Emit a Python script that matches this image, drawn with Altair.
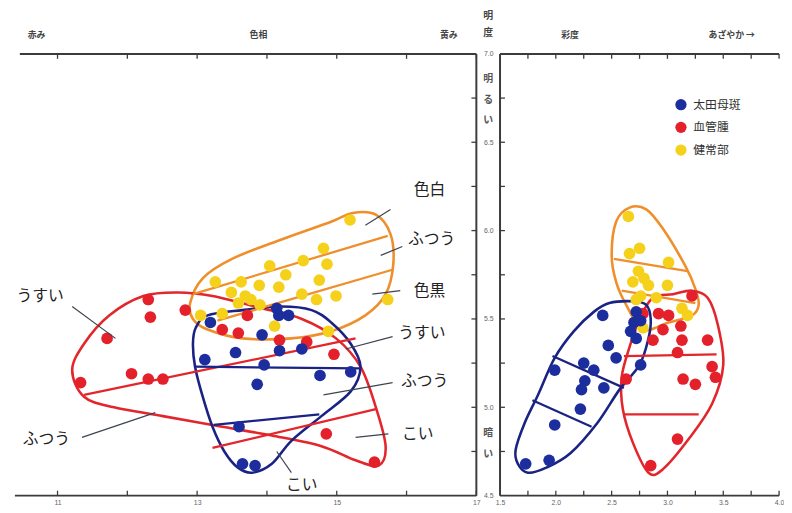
import altair as alt
import pandas as pd

GROUPS = ["太田母斑", "血管腫", "健常部"]
DOT_COLORS = ["#1c2e9e", "#e4202b", "#f5d11c"]
RING_COLORS = ["#1a2384", "#e2262c", "#ef8f2c"]
FRAME = "#3b3b3b"
JP = "Noto Sans CJK JP"

# ---- axis ticks / labels ----
HUE_TICKS = [11, 12, 13, 14, 15, 16, 17]
HUE_LABELS = [11, 13, 15, 17]
CHROMA_TICKS = [1.75, 2.0, 2.25, 2.5, 2.75, 3.0, 3.25, 3.5, 3.75, 4.0]
CHROMA_LABELS = [1.5, 2.0, 2.5, 3.0, 3.5, 4.0]
LIGHT_TICKS = [4.75, 5.0, 5.25, 5.5, 5.75, 6.0, 6.25, 6.5, 6.75]
LIGHT_LABELS = [4.5, 5.0, 5.5, 6.0, 6.5, 7.0]

# ---- left panel points (hue, lightness) ----
norm_hue = [15.19, 14.81, 14.86, 14.52, 14.04, 14.27, 14.75, 13.26, 13.63, 13.89, 14.17, 13.49,
            13.69, 13.77, 14.50, 14.99, 14.71, 15.73, 13.05, 13.36, 14.11, 14.88, 13.59, 13.90]
norm_light_a = [6.06, 5.90, 5.81, 5.83, 5.80, 5.75, 5.72, 5.71, 5.71, 5.69, 5.68, 5.65,
                5.63, 5.61, 5.64, 5.63, 5.61, 5.61, 5.52, 5.53, 5.46, 5.43, 5.59, 5.58]
hem_hue = [12.30, 12.33, 11.71, 12.06, 12.30, 12.51, 11.33, 12.83, 13.36, 13.59, 13.72, 14.18,
           14.57, 14.96, 14.85, 15.54]
hem_light_a = [5.61, 5.51, 5.39, 5.19, 5.16, 5.16, 5.14, 5.55, 5.44, 5.42, 5.52, 5.38,
               5.37, 5.30, 4.85, 4.69]
ota_hue = [13.19, 14.14, 14.17, 14.31, 13.93, 14.50, 13.11, 13.55, 14.18, 15.20, 14.76, 13.96,
           13.86, 13.60, 13.65, 13.83]
ota_light_a = [5.48, 5.56, 5.52, 5.52, 5.41, 5.33, 5.27, 5.31, 5.32, 5.20, 5.18, 5.24,
               5.13, 4.89, 4.68, 4.67]

# ---- right panel points (chroma, lightness) ----
norm_chroma = [2.65, 2.75, 2.66, 2.74, 2.79, 2.69, 2.83, 3.01, 3.00, 2.90, 3.18, 2.76, 2.72, 3.13, 2.78]
norm_light_b = [6.08, 5.90, 5.87, 5.77, 5.73, 5.71, 5.69, 5.82, 5.69, 5.62, 5.52, 5.63, 5.61, 5.56, 5.45]
hem_chroma = [3.22, 3.01, 2.92, 2.78, 3.12, 2.96, 3.13, 3.36, 2.87, 3.09, 3.40, 3.43, 3.14, 3.25,
              2.63, 3.09, 2.85]
hem_light_b = [5.63, 5.52, 5.53, 5.53, 5.46, 5.44, 5.38, 5.38, 5.38, 5.31, 5.23, 5.17, 5.16, 5.13,
               5.16, 4.82, 4.67]
ota_chroma = [2.42, 2.72, 2.70, 2.76, 2.67, 2.47, 2.54, 2.76, 2.72, 2.25, 1.99, 2.34, 2.26, 2.43,
              2.23, 2.22, 1.99, 1.73, 1.94]
ota_light_b = [5.52, 5.54, 5.48, 5.49, 5.43, 5.35, 5.28, 5.24, 5.39, 5.25, 5.21, 5.21, 5.15, 5.11,
               5.10, 4.99, 4.90, 4.68, 4.70]

# ---- hand-drawn group outlines, left panel ----
norm_ring_hue = [12.90, 13.08, 13.50, 14.21, 14.92, 15.23, 15.56, 15.77, 15.81, 15.70, 15.41, 14.92,
                 14.35, 13.65, 13.15, 12.94]
norm_ring_light_a = [5.59, 5.73, 5.84, 5.95, 6.05, 6.10, 6.09, 5.98, 5.81, 5.64, 5.52, 5.43,
                     5.39, 5.39, 5.44, 5.50]
hem_ring_hue = [11.21, 11.38, 11.74, 12.23, 12.73, 13.22, 13.93, 14.50, 14.99, 15.34, 15.56, 15.70,
                15.60, 15.27, 14.78, 14.07, 13.36, 12.51, 11.81, 11.38]
hem_ring_light_a = [5.21, 5.36, 5.52, 5.63, 5.65, 5.63, 5.56, 5.50, 5.39, 5.23, 5.00, 4.78,
                    4.67, 4.70, 4.78, 4.84, 4.89, 4.95, 5.00, 5.06]
ota_ring_hue = [12.98, 13.15, 13.65, 14.21, 14.64, 14.92, 15.20, 15.34, 15.20, 14.78, 14.35, 14.07,
                13.79, 13.58, 13.39, 13.22, 13.08, 12.97, 12.94]
ota_ring_light_a = [5.45, 5.52, 5.55, 5.57, 5.55, 5.48, 5.36, 5.23, 5.09, 4.95, 4.81, 4.68,
                    4.63, 4.66, 4.75, 4.89, 5.06, 5.23, 5.36]
# division lines: (x1, y1, x2, y2, group)
left_divisions = [
    (12.94, 5.64, 15.73, 5.97, "健常部"), (13.29, 5.49, 15.81, 5.78, "健常部"),
    (11.38, 5.07, 15.27, 5.39, "血管腫"), (13.22, 4.77, 15.56, 4.99, "血管腫"),
    (12.97, 5.23, 15.32, 5.22, "太田母斑"), (13.24, 4.90, 14.75, 4.96, "太田母斑"),
]

# ---- hand-drawn group outlines, right panel ----
norm_ring_chroma = [2.66, 2.54, 2.50, 2.54, 2.63, 2.78, 3.01, 3.22, 3.28, 3.25, 3.16, 2.96, 2.81]
norm_ring_light_b = [6.13, 6.05, 5.86, 5.71, 5.58, 5.44, 5.48, 5.52, 5.58, 5.67, 5.80, 6.01, 6.12]
ota_ring_chroma = [1.66, 1.64, 1.72, 1.84, 1.99, 2.16, 2.34, 2.48, 2.69, 2.81, 2.85, 2.83, 2.75,
                   2.57, 2.37, 2.13, 1.92, 1.75]
ota_ring_light_b = [4.68, 4.76, 4.91, 5.07, 5.28, 5.43, 5.54, 5.59, 5.60, 5.58, 5.50, 5.39, 5.24,
                    5.10, 4.91, 4.74, 4.66, 4.63]
hem_ring_chroma = [3.22, 3.05, 2.87, 2.75, 2.66, 2.59, 2.60, 2.69, 2.83, 2.96, 3.19, 3.40, 3.50, 3.45, 3.36]
hem_ring_light_b = [5.66, 5.64, 5.62, 5.50, 5.34, 5.17, 4.99, 4.80, 4.63, 4.65, 4.82, 5.02, 5.24, 5.47, 5.62]
right_divisions = [
    (2.52, 5.84, 3.18, 5.77, "健常部"), (2.59, 5.66, 3.25, 5.59, "健常部"),
    (1.97, 5.29, 2.61, 5.11, "太田母斑"), (1.79, 5.04, 2.32, 4.89, "太田母斑"),
    (2.61, 5.29, 3.44, 5.30, "血管腫"), (2.61, 4.96, 3.28, 4.96, "血管腫"),
]

# ---- annotations (left panel) ----
note_text = ["色白", "ふつう", "色黒", "うすい", "ふつう", "こい", "うすい", "ふつう", "こい"]
note_hue = [16.33, 16.36, 16.33, 16.22, 16.26, 16.16, 10.75, 10.84, 14.50]
note_light = [6.23, 5.95, 5.66, 5.42, 5.15, 4.85, 5.63, 4.82, 4.56]
leader_lines = [
    (15.77, 6.12, 15.41, 6.03), (15.94, 5.91, 15.63, 5.86), (15.91, 5.66, 15.51, 5.64),
    (15.80, 5.40, 15.13, 5.33), (15.80, 5.14, 14.81, 5.07), (15.74, 4.85, 15.27, 4.83),
    (11.21, 5.57, 11.83, 5.39), (11.35, 4.83, 12.40, 4.97), (14.35, 4.63, 14.14, 4.75),
]

W_L, W_R, H = 463, 283, 448


# ---------- helpers ----------
def pts(xs, ys, g):
    return pd.DataFrame({"x": xs, "y": ys, "g": g})


def ring(xs, ys, g):
    return pd.DataFrame({"x": xs, "y": ys, "rg": g, "id": g, "ord": list(range(len(xs)))})


def segs(rows):
    recs = []
    for i, (x1, y1, x2, y2, g) in enumerate(rows):
        recs.append({"x": x1, "y": y1, "rg": g, "id": f"s{i}", "ord": 0})
        recs.append({"x": x2, "y": y2, "rg": g, "id": f"s{i}", "ord": 1})
    return pd.DataFrame(recs)


def axis_x(values):
    return alt.Axis(values=values, format=".0f" if values == HUE_LABELS else ".1f", ticks=False,
                    domain=False, grid=False, title=None, labelFontSize=7, labelColor="#666",
                    labelPadding=3, labelFlush=False, labelOverlap=False, labelFont="Liberation Sans")


def xenc(domain, values):
    return alt.X("x:Q", scale=alt.Scale(domain=domain, nice=False, zero=False), axis=axis_x(values))


YSCALE = alt.Scale(domain=[4.5, 7.0], nice=False, zero=False)
Y_LEFT = alt.Y("y:Q", scale=YSCALE, axis=None)
Y_RIGHT = alt.Y("y:Q", scale=YSCALE, axis=alt.Axis(
    values=LIGHT_LABELS, format=".1f", orient="left", ticks=False, tickSize=0, domain=False,
    grid=False, title=None, labelAlign="center", labelBaseline="middle", labelPadding=12,
    labelFontSize=7, labelColor="#666", labelFlush=False, labelOverlap=False,
    labelFont="Liberation Sans"))

LEGEND = alt.Legend(
    title=None, orient="none", legendX=177, legendY=45, symbolType="circle", symbolSize=130,
    labelFontSize=12, labelFont=JP, labelColor="#333", rowPadding=10, labelOffset=6)
COLOR_SCALE = alt.Scale(domain=GROUPS, range=DOT_COLORS)
STROKE = alt.Stroke("rg:N", scale=alt.Scale(domain=GROUPS, range=RING_COLORS), legend=None)

DUMMY = pd.DataFrame({"k": [0]})


def frame(x, x2, y, y2):
    return alt.Chart(DUMMY).mark_rule(color=FRAME, strokeWidth=2).encode(
        x=alt.value(x), x2=alt.value(x2), y=alt.value(y), y2=alt.value(y2))


def label(text, x, y, size=9, weight="bold", color="#444"):
    return alt.Chart(DUMMY).mark_text(font=JP, fontSize=size, fontWeight=weight, color=color).encode(
        x=alt.value(x), y=alt.value(y), text=alt.value(text))


def panel(X, Y, w, xticks, pts_df, rings_df, segs_df, yticks_side, legend):
    layers = []
    xt = pd.DataFrame({"x": xticks})
    yt = pd.DataFrame({"y": LIGHT_TICKS})
    layers.append(alt.Chart(xt).mark_rule(color=FRAME, strokeWidth=1.3).encode(
        x=X, y=alt.value(0), y2=alt.value(5)))
    layers.append(alt.Chart(xt).mark_rule(color=FRAME, strokeWidth=1.3).encode(
        x=X, y=alt.value(H - 5), y2=alt.value(H)))
    if yticks_side == "right":
        layers.append(alt.Chart(yt).mark_rule(color=FRAME, strokeWidth=1.3).encode(
            y=Y, x=alt.value(w - 5), x2=alt.value(w)))
    else:
        layers.append(alt.Chart(yt).mark_rule(color=FRAME, strokeWidth=1.3).encode(
            y=Y, x=alt.value(0), x2=alt.value(5)))
    layers.append(alt.Chart(rings_df).mark_line(interpolate="cardinal-closed", strokeWidth=2.6).encode(
        x=X, y=Y, stroke=STROKE, detail="id:N", order="ord:Q"))
    layers.append(alt.Chart(segs_df).mark_line(strokeWidth=2.3).encode(
        x=X, y=Y, stroke=STROKE, detail="id:N", order="ord:Q"))
    if legend is None:
        color = alt.Color("g:N", scale=COLOR_SCALE, legend=None)
    else:
        color = alt.Color("g:N", scale=COLOR_SCALE, legend=legend)
    layers.append(alt.Chart(pts_df).mark_circle(size=140, opacity=1).encode(
        x=X, y=Y, color=color))
    return layers


# ---------- left panel ----------
XL = xenc([10.46, 17.0], HUE_LABELS)
left_pts = pd.concat([pts(norm_hue, norm_light_a, "健常部"), pts(hem_hue, hem_light_a, "血管腫"),
                      pts(ota_hue, ota_light_a, "太田母斑")])
left_rings = pd.concat([ring(norm_ring_hue, norm_ring_light_a, "健常部"),
                        ring(hem_ring_hue, hem_ring_light_a, "血管腫"),
                        ring(ota_ring_hue, ota_ring_light_a, "太田母斑")])
left_segs = segs(left_divisions)
lead_df = segs([(a, b, c, d, "l") for (a, b, c, d) in leader_lines])
notes_df = pd.DataFrame({"x": note_hue, "y": note_light, "t": note_text})

left_layers = [frame(0, W_L, 0, 0), frame(-5, W_L, H, H), frame(W_L, W_L, 0, H)]
left_layers += panel(XL, Y_LEFT, W_L, HUE_TICKS, left_pts, left_rings, left_segs, "right", None)
left_layers.append(alt.Chart(lead_df).mark_line(color="#3d4450", strokeWidth=1.2).encode(
    x=XL, y=Y_LEFT, detail="id:N", order="ord:Q"))
left_layers.append(alt.Chart(notes_df).mark_text(font=JP, fontSize=16, color="#222").encode(
    x=XL, y=Y_LEFT, text="t:N"))
left_layers += [label("赤み", 17, -19), label("色相", 242, -19), label("黄み", 435, -19)]
left = alt.layer(*left_layers).properties(width=W_L, height=H)

# ---------- right panel ----------
XR = xenc([1.5, 4.0], CHROMA_LABELS)
right_pts = pd.concat([pts(norm_chroma, norm_light_b, "健常部"), pts(hem_chroma, hem_light_b, "血管腫"),
                       pts(ota_chroma, ota_light_b, "太田母斑")])
right_rings = pd.concat([ring(norm_ring_chroma, norm_ring_light_b, "健常部"),
                         ring(hem_ring_chroma, hem_ring_light_b, "血管腫"),
                         ring(ota_ring_chroma, ota_ring_light_b, "太田母斑")])
right_segs = segs(right_divisions)

right_layers = [frame(0, 0, 0, H), frame(0, W_R, 0, 0), frame(0, W_R, H, H)]
right_layers += panel(XR, Y_RIGHT, W_R, CHROMA_TICKS, right_pts, right_rings, right_segs, "left", LEGEND)
right_layers += [label("彩度", 71, -19), label("あざやか →", 235, -19),
                 label("明", -12, -38, 10), label("度", -12, -21, 10),
                 label("明", -12, 26, 10, color="#555"), label("る", -12, 47, 10, color="#555"),
                 label("い", -12, 67, 10, color="#555"),
                 label("暗", -12, 385, 10, color="#555"), label("い", -12, 406, 10, color="#555")]
right = alt.layer(*right_layers).properties(width=W_R, height=H)

chart = alt.hconcat(left, right, spacing=24, bounds="flush").resolve_legend(
    color="independent"
).properties(
    padding={"left": 6, "top": 0, "right": 0, "bottom": 0}
).configure_view(strokeWidth=0)

chart.save("out.html", embed_options={"renderer": "svg", "actions": False})
